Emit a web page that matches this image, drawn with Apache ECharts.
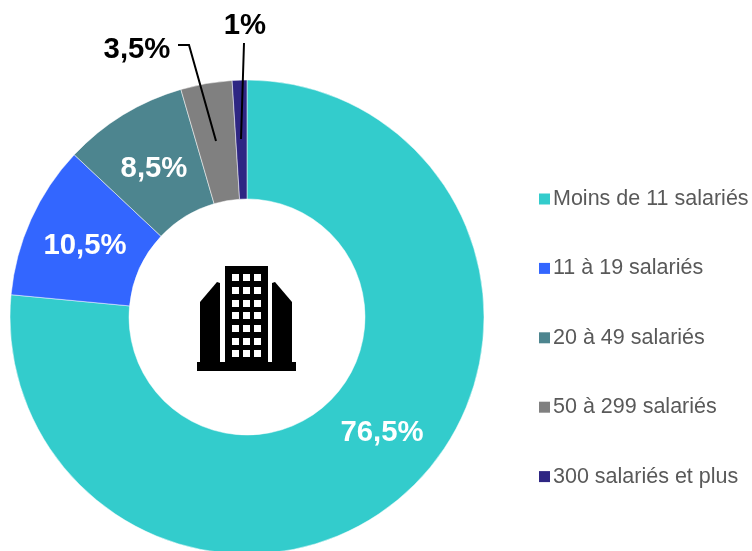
<!DOCTYPE html>
<html><head><meta charset="utf-8">
<style>html,body{margin:0;padding:0;background:#fff}#c{width:752px;height:551px}</style>
<script src="https://cdn.jsdelivr.net/npm/echarts@6/dist/echarts.min.js"></script>
</head><body><div id="c"></div>
<script>
const categories=['Moins de 11 salariés','11 à 19 salariés','20 à 49 salariés','50 à 299 salariés','300 salariés et plus'];
const values=[76.5,10.5,8.5,3.5,1];
const valueLabels=['76,5%','10,5%','8,5%','3,5%','1%'];
const colors=['#33CCCC','#3366FF','#4D858F','#808080','#2E2683'];
const labelBoxes=[null,null,null,{x:137,y:50,line:[[178,45],[189,45],[216,141]]},{x:245,y:26,line:[[244,43],[241,139]]}];
const labelCentres=[{x:382,y:433},{x:85,y:246},{x:154,y:169}];

const win=[];
[274,287,300,312,325,338,350].forEach(y=>[232,243,254].forEach(x=>win.push({type:'rect',shape:{x:x,y:y,width:7,height:7},style:{fill:'#fff'}})));
const icon=[
 {type:'rect',shape:{x:197,y:362,width:99,height:9},style:{fill:'#000'}},
 {type:'rect',shape:{x:225,y:266,width:43,height:97},style:{fill:'#000'}},
 {type:'polygon',shape:{points:[[200,302],[217,282],[220,283],[220,363],[200,363]]},style:{fill:'#000'}},
 {type:'polygon',shape:{points:[[292,302],[275,282],[272,283],[272,363],[292,363]]},style:{fill:'#000'}},
 ...win
];

const chart=echarts.init(document.getElementById('c'),null,{renderer:'canvas'});
chart.setOption({
 animation:false,
 legend:{orient:'vertical',left:539,top:188,padding:0,itemWidth:11,itemHeight:11,itemGap:47.4,icon:'rect',data:categories,
   itemStyle:{borderWidth:0},
   textStyle:{fontFamily:'Liberation Sans',fontSize:21.5,color:'#595959',padding:[0,0,0,-2]}},
 graphic:icon,
 series:[
  {type:'pie',center:[247,317],radius:[118,237],startAngle:90,clockwise:true,avoidLabelOverlap:false,
   itemStyle:{borderColor:'#fff',borderWidth:0.5},
   emphasis:{disabled:true},label:{show:false},labelLine:{show:false},
   data:categories.map((n,i)=>({name:n,value:values[i],itemStyle:{color:colors[i]}}))},
  {type:'pie',z:3,silent:true,legendHoverLink:false,center:[247,317],radius:[118,237],startAngle:90,clockwise:true,avoidLabelOverlap:false,
   itemStyle:{color:'transparent',borderWidth:0},
   emphasis:{disabled:true},
   data:categories.map((n,i)=>({name:n,value:values[i],itemStyle:{color:'transparent'},
     label:{show:true,position:i<3?'inside':'outside',formatter:valueLabels[i],fontFamily:'Liberation Sans',fontWeight:'bold',fontSize:29.3,color:i<3?'#fff':'#000'},
     labelLine:{show:i>=3,length:10,length2:10,lineStyle:{color:'#000',width:2}}})),
   labelLayout:function(p){
     const b=labelBoxes[p.dataIndex];
     if(b) return {x:b.x,y:b.y,align:'center',verticalAlign:'middle',labelLinePoints:b.line};
     const c=labelCentres[p.dataIndex];
     return {x:c.x,y:c.y,align:'center',verticalAlign:'middle'};
   }
  }
 ]
});
</script></body></html>
